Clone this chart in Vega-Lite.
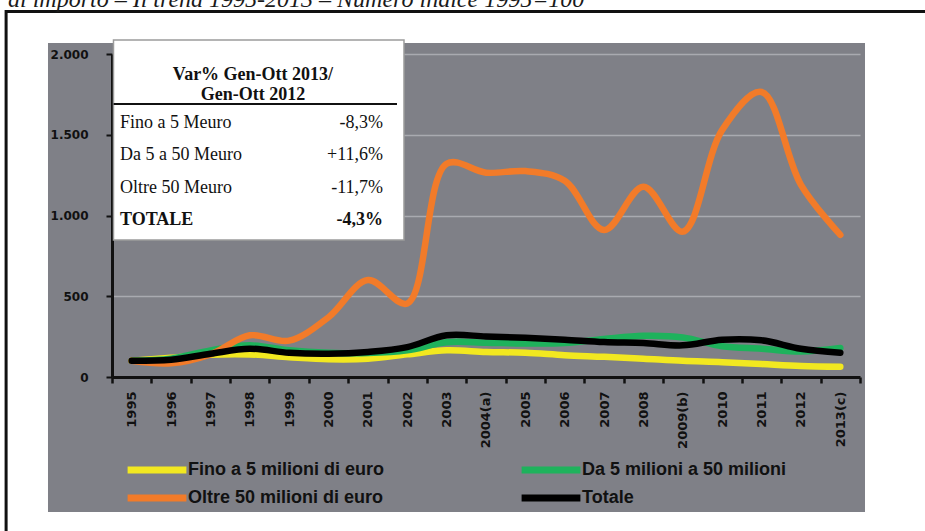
{
  "$schema": "https://vega.github.io/schema/vega-lite/v6.json",
  "width": 748,
  "height": 323,
  "autosize": {"type": "none"},
  "padding": {"left": 112, "top": 54, "right": 65, "bottom": 154},
  "background": "#7F8087",
  "datasets": {
    "trend": [
      {"anno": 1995, "Fino a 5 milioni di euro": 100, "Da 5 milioni a 50 milioni": 100, "Oltre 50 milioni di euro": 100, "Totale": 100},
      {"anno": 1996, "Fino a 5 milioni di euro": 119, "Da 5 milioni a 50 milioni": 113, "Oltre 50 milioni di euro": 85, "Totale": 107},
      {"anno": 1997, "Fino a 5 milioni di euro": 138, "Da 5 milioni a 50 milioni": 165, "Oltre 50 milioni di euro": 140, "Totale": 144},
      {"anno": 1998, "Fino a 5 milioni di euro": 140, "Da 5 milioni a 50 milioni": 196, "Oltre 50 milioni di euro": 258, "Totale": 175},
      {"anno": 1999, "Fino a 5 milioni di euro": 123, "Da 5 milioni a 50 milioni": 165, "Oltre 50 milioni di euro": 225, "Totale": 150},
      {"anno": 2000, "Fino a 5 milioni di euro": 110, "Da 5 milioni a 50 milioni": 150, "Oltre 50 milioni di euro": 370, "Totale": 144},
      {"anno": 2001, "Fino a 5 milioni di euro": 113, "Da 5 milioni a 50 milioni": 148, "Oltre 50 milioni di euro": 600, "Totale": 155},
      {"anno": 2002, "Fino a 5 milioni di euro": 140, "Da 5 milioni a 50 milioni": 165, "Oltre 50 milioni di euro": 455, "Totale": 185},
      {"anno": 2003, "Fino a 5 milioni di euro": 165, "Da 5 milioni a 50 milioni": 215, "Oltre 50 milioni di euro": 1320, "Totale": 258},
      {"anno": 2004, "Fino a 5 milioni di euro": 155, "Da 5 milioni a 50 milioni": 212, "Oltre 50 milioni di euro": 1265, "Totale": 251},
      {"anno": 2005, "Fino a 5 milioni di euro": 150, "Da 5 milioni a 50 milioni": 207, "Oltre 50 milioni di euro": 1275, "Totale": 243},
      {"anno": 2006, "Fino a 5 milioni di euro": 135, "Da 5 milioni a 50 milioni": 210, "Oltre 50 milioni di euro": 1215, "Totale": 231},
      {"anno": 2007, "Fino a 5 milioni di euro": 125, "Da 5 milioni a 50 milioni": 235, "Oltre 50 milioni di euro": 910, "Totale": 216},
      {"anno": 2008, "Fino a 5 milioni di euro": 113, "Da 5 milioni a 50 milioni": 255, "Oltre 50 milioni di euro": 1178, "Totale": 210},
      {"anno": 2009, "Fino a 5 milioni di euro": 100, "Da 5 milioni a 50 milioni": 245, "Oltre 50 milioni di euro": 900, "Totale": 196},
      {"anno": 2010, "Fino a 5 milioni di euro": 92, "Da 5 milioni a 50 milioni": 190, "Oltre 50 milioni di euro": 1530, "Totale": 231},
      {"anno": 2011, "Fino a 5 milioni di euro": 80, "Da 5 milioni a 50 milioni": 175, "Oltre 50 milioni di euro": 1765, "Totale": 227},
      {"anno": 2012, "Fino a 5 milioni di euro": 68, "Da 5 milioni a 50 milioni": 158, "Oltre 50 milioni di euro": 1190, "Totale": 175},
      {"anno": 2013, "Fino a 5 milioni di euro": 63, "Da 5 milioni a 50 milioni": 180, "Oltre 50 milioni di euro": 880, "Totale": 150}
    ],
    "tabella": [
      {"voce": "Fino a 5 Meuro", "var": "-8,3%"},
      {"voce": "Da 5 a 50 Meuro", "var": "+11,6%"},
      {"voce": "Oltre 50 Meuro", "var": "-11,7%"},
      {"voce": "TOTALE", "var": "-4,3%"}
    ]
  },
  "layer": [
    {
      "layer": [
        {
          "data": {"values": [{}]},
          "mark": {"type": "rect", "filled": false, "stroke": "white", "strokeWidth": 100},
          "encoding": {
            "x": {"datum": 1991.604, "type": "quantitative"},
            "x2": {"datum": 2014.897},
            "y": {"datum": 2377.7, "type": "quantitative"},
            "y2": {"datum": -1145.5}
          }
        },
        {
          "data": {"values": [{}]},
          "mark": {"type": "rect", "filled": false, "stroke": "#111111", "strokeWidth": 3},
          "encoding": {
            "x": {"datum": 1991.81, "type": "quantitative"},
            "x2": {"datum": 2015.4},
            "y": {"datum": 2263, "type": "quantitative"},
            "y2": {"datum": -1040}
          }
        },
        {
          "data": {"values": [{}]},
          "mark": {
            "type": "text",
            "text": "di importo – Il trend 1995-2013 – Numero indice 1995=100",
            "font": "Liberation Serif",
            "fontSize": 24,
            "fontStyle": "italic",
            "align": "left",
            "baseline": "alphabetic",
            "color": "#1a1a1a"
          },
          "encoding": {
            "x": {"datum": 1991.858, "type": "quantitative"},
            "y": {"datum": 2291, "type": "quantitative"}
          }
        },
        {
          "data": {"name": "trend"},
          "transform": [
            {"fold": ["Fino a 5 milioni di euro", "Da 5 milioni a 50 milioni", "Oltre 50 milioni di euro", "Totale"], "as": ["serie", "indice"]}
          ],
          "mark": {"type": "line", "interpolate": "catmull-rom", "strokeCap": "round", "strokeJoin": "round"},
          "encoding": {
            "x": {
              "field": "anno",
              "type": "quantitative",
              "scale": {"domain": [1994.5, 2013.5], "nice": false, "zero": false},
              "axis": {
                "values": [1994.5, 1995.5, 1996.5, 1997.5, 1998.5, 1999.5, 2000.5, 2001.5, 2002.5, 2003.5, 2004.5, 2005.5, 2006.5, 2007.5, 2008.5, 2009.5, 2010.5, 2011.5, 2012.5, 2013.5],
                "tickCount": 40,
                "labelExpr": "datum.value > 2013 ? '' : datum.value == 2003.5 ? '2004(a)' : datum.value == 2008.5 ? '2009(b)' : datum.value == 2012.5 ? '2013(c)' : '' + (datum.value + 0.5)",
                "labelOffset": 19.68,
                "labelAngle": -90,
                "labelAlign": "right",
                "labelBaseline": "middle",
                "labelPadding": 8,
                "labelFont": "DejaVu Sans",
                "labelFontSize": 13,
                "labelFontWeight": "bold",
                "labelColor": "#111111",
                "labelFlush": false,
                "labelOverlap": false,
                "labelBound": false,
                "tickColor": "#111111",
                "tickSize": 6,
                "tickWidth": 2.5,
                "domainColor": "#111111",
                "domainWidth": 3,
                "grid": false,
                "title": null
              }
            },
            "y": {
              "field": "indice",
              "type": "quantitative",
              "scale": {"domain": [0, 2000], "nice": false},
              "axis": {
                "values": [0, 500, 1000, 1500, 2000],
                "labelExpr": "replace(format(datum.value, ','), ',', '.')",
                "grid": true,
                "gridColor": "#A9AAB0",
                "gridWidth": 1.5,
                "domainColor": "#111111",
                "domainWidth": 3,
                "tickColor": "#111111",
                "tickSize": 6,
                "tickWidth": 2,
                "labelPadding": 18,
                "labelFont": "DejaVu Sans",
                "labelFontSize": 12,
                "labelFontWeight": "bold",
                "labelColor": "#111111",
                "title": null
              }
            },
            "color": {
              "field": "serie",
              "type": "nominal",
              "scale": {
                "domain": ["Fino a 5 milioni di euro", "Oltre 50 milioni di euro", "Da 5 milioni a 50 milioni", "Totale"],
                "range": ["#F2E820", "#F27B29", "#1EB25C", "#000000"]
              },
              "legend": {
                "title": null,
                "orient": "none",
                "legendX": 31,
                "legendY": 402,
                "columns": 2,
                "symbolType": "M-2.8,0H2.8",
                "symbolSize": 441,
                "symbolStrokeWidth": 7,
                "labelFont": "Liberation Sans",
                "labelFontSize": 18,
                "labelFontWeight": "bold",
                "labelColor": "#111111",
                "labelOffset": 17,
                "columnPadding": 122,
                "rowPadding": -5,
                "labelLimit": 400,
                "padding": 0
              }
            },
            "strokeWidth": {
              "field": "serie",
              "type": "nominal",
              "scale": {
                "domain": ["Fino a 5 milioni di euro", "Da 5 milioni a 50 milioni", "Oltre 50 milioni di euro", "Totale"],
                "range": [6.5, 6.5, 8, 4.5]
              },
              "legend": null
            }
          }
        },
        {
          "data": {"values": [{}]},
          "mark": {"type": "rect", "fill": "white", "stroke": "#9C9C9C", "strokeWidth": 1.5},
          "encoding": {
            "x": {"datum": 1994.538, "type": "quantitative"},
            "x2": {"datum": 2001.917},
            "y": {"datum": 2086.7, "type": "quantitative"},
            "y2": {"datum": 848.3}
          }
        },
        {
          "data": {"values": [{}]},
          "mark": {"type": "rule", "color": "#111111", "strokeWidth": 2},
          "encoding": {
            "x": {"datum": 1994.54, "type": "quantitative"},
            "x2": {"datum": 2001.739},
            "y": {"datum": 1690.4, "type": "quantitative"}
          }
        },
        {
          "data": {"values": [{}]},
          "mark": {
            "type": "text",
            "text": ["Var% Gen-Ott 2013/", "Gen-Ott 2012"],
            "font": "Liberation Serif",
            "fontSize": 18,
            "fontWeight": "bold",
            "lineHeight": 20,
            "align": "center",
            "baseline": "middle",
            "color": "#111111"
          },
          "encoding": {
            "x": {"datum": 1998.08, "type": "quantitative"},
            "y": {"datum": 1871, "type": "quantitative"}
          }
        }
      ]
    },
    {
      "data": {"name": "tabella"},
      "layer": [
        {
          "transform": [{"filter": "datum.voce !== 'TOTALE'"}],
          "mark": {"type": "text", "align": "left", "baseline": "middle", "font": "Liberation Serif", "fontSize": 18, "color": "#111111"},
          "encoding": {
            "x": {"datum": 1994.703, "type": "quantitative"},
            "y": {"field": "voce", "type": "nominal", "scale": {"type": "point", "domain": ["Fino a 5 Meuro", "Da 5 a 50 Meuro", "Oltre 50 Meuro", "TOTALE"], "range": [69, 166], "padding": 0}, "axis": null},
            "text": {"field": "voce"}
          }
        },
        {
          "transform": [{"filter": "datum.voce !== 'TOTALE'"}],
          "mark": {"type": "text", "align": "right", "baseline": "middle", "font": "Liberation Serif", "fontSize": 18, "color": "#111111"},
          "encoding": {
            "x": {"datum": 2001.384, "type": "quantitative"},
            "y": {"field": "voce", "type": "nominal"},
            "text": {"field": "var"}
          }
        },
        {
          "transform": [{"filter": "datum.voce === 'TOTALE'"}],
          "mark": {"type": "text", "align": "left", "baseline": "middle", "font": "Liberation Serif", "fontSize": 18, "fontWeight": "bold", "color": "#111111"},
          "encoding": {
            "x": {"datum": 1994.703, "type": "quantitative"},
            "y": {"field": "voce", "type": "nominal"},
            "text": {"field": "voce"}
          }
        },
        {
          "transform": [{"filter": "datum.voce === 'TOTALE'"}],
          "mark": {"type": "text", "align": "right", "baseline": "middle", "font": "Liberation Serif", "fontSize": 18, "fontWeight": "bold", "color": "#111111"},
          "encoding": {
            "x": {"datum": 2001.384, "type": "quantitative"},
            "y": {"field": "voce", "type": "nominal"},
            "text": {"field": "var"}
          }
        }
      ]
    }
  ],
  "resolve": {"scale": {"y": "independent"}},
  "config": {
    "view": {"stroke": null},
    "font": "Liberation Sans"
  }
}
